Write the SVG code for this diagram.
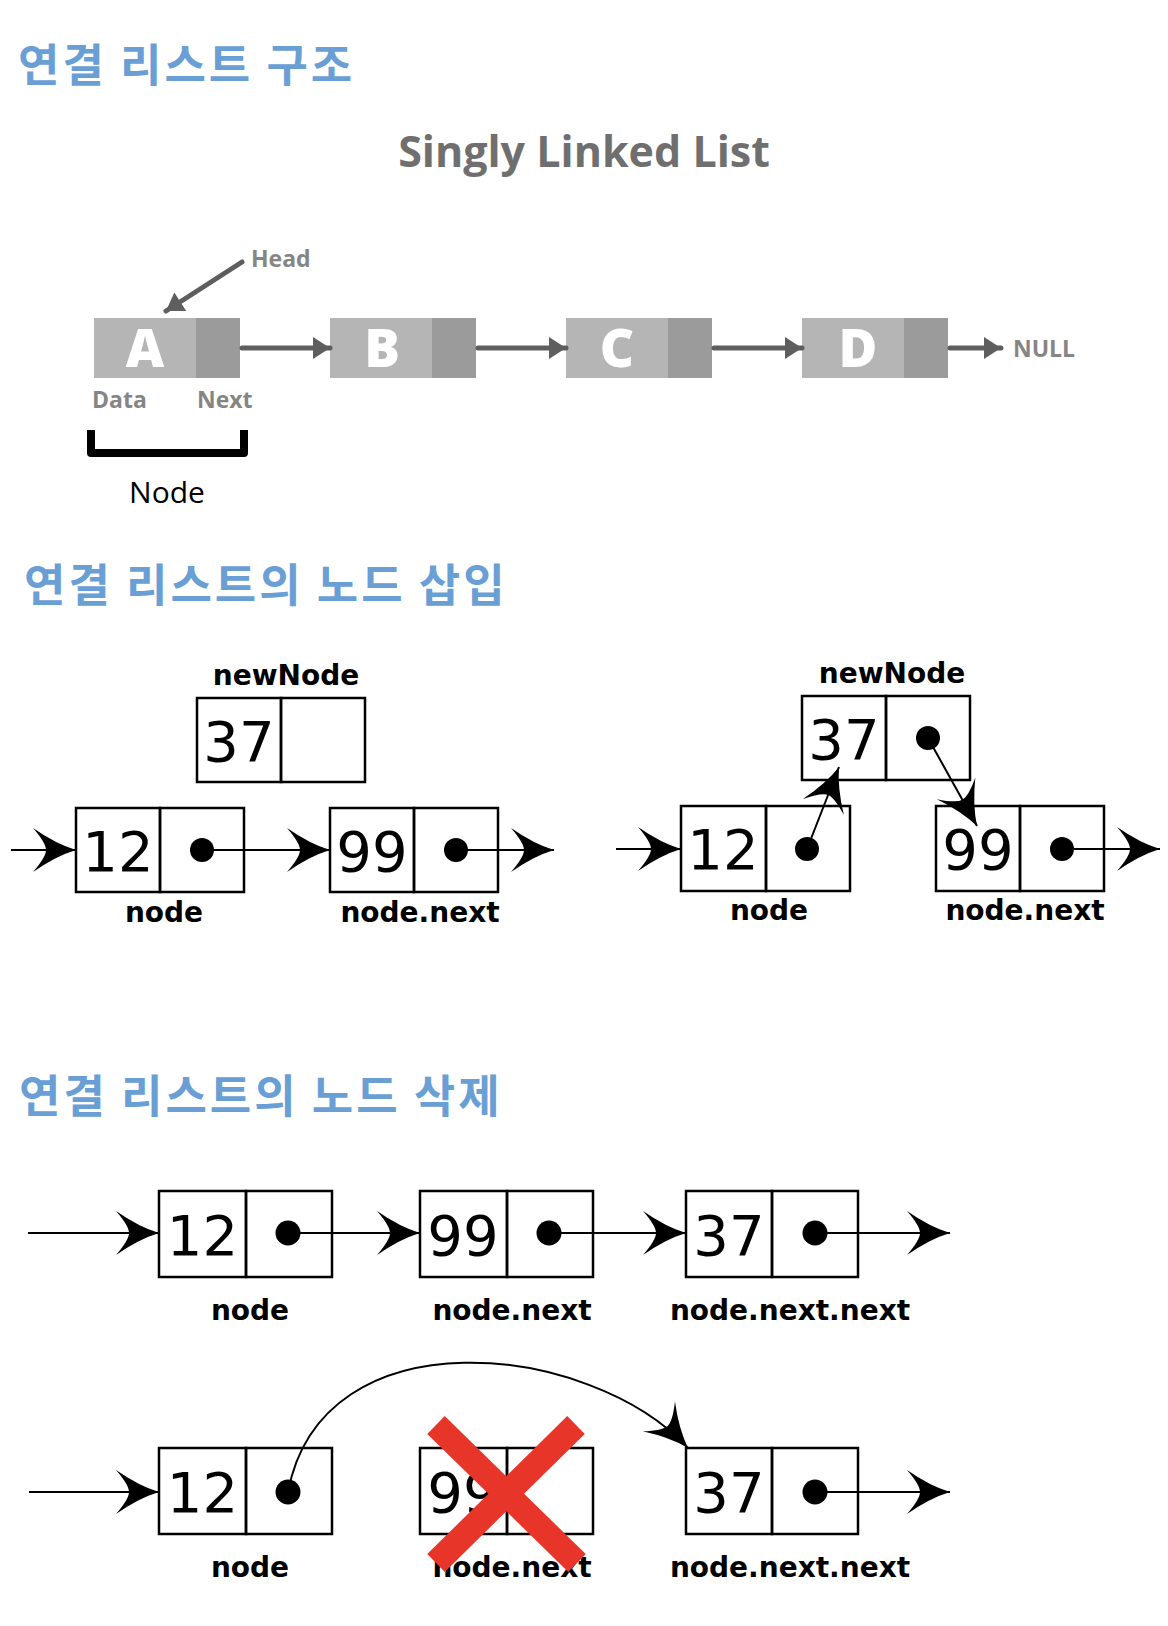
<svg xmlns="http://www.w3.org/2000/svg" width="1168" height="1626" viewBox="0 0 1168 1626">
<style>
.title{font-family:"Noto Sans CJK KR","Noto Sans",sans-serif;font-size:45px;font-weight:bold;letter-spacing:3px;fill:#6a9fd5}
.sub{font-family:"Open Sans","Liberation Sans",sans-serif;font-weight:bold;font-size:43px;fill:#6f6f6f;text-anchor:middle}
.gl{font-family:"Open Sans","Liberation Sans",sans-serif;font-weight:bold;font-size:23px;fill:#858585}
.let{font-family:"Open Sans","Liberation Sans",sans-serif;font-weight:800;font-size:53px;fill:#ffffff;text-anchor:middle}
.data{fill:#b5b5b5}
.next{fill:#9b9b9b}
.garrow{stroke:#5e5e5e;stroke-width:5;stroke-linecap:round;fill:none}
.cell{fill:none;stroke:#000;stroke-width:2.5}
.num{font-family:"DejaVu Sans",sans-serif;font-size:56px;fill:#000;text-anchor:middle}
.lbl{font-family:"DejaVu Sans",sans-serif;font-weight:bold;font-size:28px;fill:#000;text-anchor:middle}
.ptr{fill:none;stroke:#000;stroke-width:2}
</style>
<defs>
<marker id="gtri" viewBox="-20 -12 21 24" refX="0" refY="0" markerWidth="21" markerHeight="24" markerUnits="userSpaceOnUse" orient="auto">
<path d="M0,0 L-17,-11 L-17,11 Z" fill="#5e5e5e"/>
</marker>
<marker id="barb" viewBox="-46 -24 48 48" refX="0" refY="0" markerWidth="48" markerHeight="48" markerUnits="userSpaceOnUse" orient="auto">
<path d="M0,0 Q-20,-6 -43,-22 Q-30,-7 -30,0 Q-30,7 -43,22 Q-20,6 0,0 Z" fill="#000"/>
</marker>
</defs>
<rect x="0" y="0" width="1168" height="1626" fill="#ffffff"/>

<!-- Titles -->
<text class="title" x="18" y="82">연결 리스트 구조</text>
<text class="sub" x="584" y="167">Singly Linked List</text>
<text class="title" x="24" y="602">연결 리스트의 노드 삽입</text>
<text class="title" x="19" y="1113">연결 리스트의 노드 삭제</text>

<!-- Section 1: singly linked list -->
<g id="nodeA">
<rect class="data" x="94" y="318" width="102" height="60"/>
<rect class="next" x="196" y="318" width="44" height="60"/>
<text class="let" x="145" y="367">A</text>
</g>
<g id="nodeB">
<rect class="data" x="330" y="318" width="102" height="60"/>
<rect class="next" x="432" y="318" width="44" height="60"/>
<text class="let" x="382" y="367">B</text>
</g>
<g id="nodeC">
<rect class="data" x="566" y="318" width="102" height="60"/>
<rect class="next" x="668" y="318" width="44" height="60"/>
<text class="let" x="617" y="367">C</text>
</g>
<g id="nodeD">
<rect class="data" x="802" y="318" width="102" height="60"/>
<rect class="next" x="904" y="318" width="44" height="60"/>
<text class="let" x="858" y="367">D</text>
</g>
<g id="labels-top">
<text class="gl" x="251" y="267">Head</text>
<text class="gl" x="1013" y="357">NULL</text>
<text class="gl" x="92" y="408">Data</text>
<text class="gl" x="197" y="408">Next</text>
<path d="M91,430 V453 H244 V430" fill="none" stroke="#000" stroke-width="8" stroke-linejoin="round"/>
<text x="167" y="503" font-family="'Open Sans','Liberation Sans',sans-serif" font-size="30" fill="#000" text-anchor="middle">Node</text>
</g>
<g id="connectors-top">
<line class="garrow" x1="242" y1="262" x2="166" y2="311" marker-end="url(#gtri)"/>
<line class="garrow" x1="242" y1="348" x2="330" y2="348" marker-end="url(#gtri)"/>
<line class="garrow" x1="478" y1="348" x2="566" y2="348" marker-end="url(#gtri)"/>
<line class="garrow" x1="714" y1="348" x2="802" y2="348" marker-end="url(#gtri)"/>
<line class="garrow" x1="950" y1="348" x2="1001" y2="348" marker-end="url(#gtri)"/>
</g>

<!-- Section 2 left: before insertion -->
<g id="ins-left-newNode">
<text class="lbl" x="286" y="685">newNode</text>
<rect class="cell" x="197" y="698" width="84" height="84"/>
<rect class="cell" x="281" y="698" width="84" height="84"/>
<text class="num" x="239" y="761">37</text>
</g>
<g id="ins-left-node">
<rect class="cell" x="76" y="808" width="84" height="84"/>
<rect class="cell" x="160" y="808" width="84" height="84"/>
<text class="num" x="118" y="871">12</text>
<circle cx="202" cy="850" r="12"/>
<text class="lbl" x="164" y="922">node</text>
</g>
<g id="ins-left-next">
<rect class="cell" x="330" y="808" width="84" height="84"/>
<rect class="cell" x="414" y="808" width="84" height="84"/>
<text class="num" x="372" y="871">99</text>
<circle cx="456" cy="850" r="12"/>
<text class="lbl" x="420" y="922">node.next</text>
</g>

<!-- Section 2 right: after insertion -->
<g id="ins-right-newNode">
<text class="lbl" x="892" y="683">newNode</text>
<rect class="cell" x="802" y="696" width="84" height="84"/>
<rect class="cell" x="886" y="696" width="84" height="84"/>
<text class="num" x="844" y="759">37</text>
<circle cx="928" cy="738" r="12"/>
</g>
<g id="ins-right-node">
<rect class="cell" x="681" y="806" width="85" height="85"/>
<rect class="cell" x="766" y="806" width="84" height="85"/>
<text class="num" x="723" y="869">12</text>
<circle cx="807" cy="849" r="12"/>
<text class="lbl" x="769" y="920">node</text>
</g>
<g id="ins-right-next">
<rect class="cell" x="936" y="806" width="84" height="85"/>
<rect class="cell" x="1020" y="806" width="84" height="85"/>
<text class="num" x="978" y="869">99</text>
<circle cx="1062" cy="849" r="12"/>
<text class="lbl" x="1025" y="920">node.next</text>
</g>

<!-- Section 3 row 1 -->
<g id="del1-node">
<rect class="cell" x="159" y="1191" width="87" height="86"/>
<rect class="cell" x="246" y="1191" width="86" height="86"/>
<text class="num" x="202.5" y="1255">12</text>
<circle cx="288" cy="1233" r="12.5"/>
<text class="lbl" x="250" y="1320">node</text>
</g>
<g id="del1-next">
<rect class="cell" x="420" y="1191" width="87" height="86"/>
<rect class="cell" x="507" y="1191" width="86" height="86"/>
<text class="num" x="463" y="1255">99</text>
<circle cx="549" cy="1233" r="12.5"/>
<text class="lbl" x="512" y="1320">node.next</text>
</g>
<g id="del1-nextnext">
<rect class="cell" x="686" y="1191" width="86" height="86"/>
<rect class="cell" x="772" y="1191" width="86" height="86"/>
<text class="num" x="729" y="1255">37</text>
<circle cx="815" cy="1233" r="12.5"/>
<text class="lbl" x="790" y="1320">node.next.next</text>
</g>

<!-- Section 3 row 2 -->
<g id="del2-node">
<rect class="cell" x="159" y="1448" width="87" height="86"/>
<rect class="cell" x="246" y="1448" width="86" height="86"/>
<text class="num" x="202.5" y="1512">12</text>
<circle cx="288" cy="1492" r="12.5"/>
<text class="lbl" x="250" y="1577">node</text>
</g>
<g id="del2-next">
<rect class="cell" x="420" y="1448" width="87" height="86"/>
<rect class="cell" x="507" y="1448" width="86" height="86"/>
<text class="num" x="463" y="1512">99</text>
<text class="lbl" x="512" y="1577">node.next</text>
</g>
<g id="del2-nextnext">
<rect class="cell" x="686" y="1448" width="86" height="86"/>
<rect class="cell" x="772" y="1448" width="86" height="86"/>
<text class="num" x="729" y="1512">37</text>
<circle cx="815" cy="1492" r="12.5"/>
<text class="lbl" x="790" y="1577">node.next.next</text>
</g>

<g id="connectors">
<line class="ptr" x1="11" y1="850" x2="76" y2="850" marker-end="url(#barb)"/>
<line class="ptr" x1="202" y1="850" x2="330" y2="850" marker-end="url(#barb)"/>
<line class="ptr" x1="456" y1="850" x2="554" y2="850" marker-end="url(#barb)"/>

<line class="ptr" x1="616" y1="849" x2="681" y2="849" marker-end="url(#barb)"/>
<line class="ptr" x1="807" y1="849" x2="839" y2="767" marker-end="url(#barb)"/>
<line class="ptr" x1="928" y1="738" x2="977" y2="826" marker-end="url(#barb)"/>
<line class="ptr" x1="1062" y1="849" x2="1160" y2="849" marker-end="url(#barb)"/>

<line class="ptr" x1="28" y1="1233" x2="159" y2="1233" marker-end="url(#barb)"/>
<line class="ptr" x1="288" y1="1233" x2="420" y2="1233" marker-end="url(#barb)"/>
<line class="ptr" x1="549" y1="1233" x2="686" y2="1233" marker-end="url(#barb)"/>
<line class="ptr" x1="815" y1="1233" x2="950" y2="1233" marker-end="url(#barb)"/>

<line class="ptr" x1="29" y1="1492" x2="159" y2="1492" marker-end="url(#barb)"/>
<path class="ptr" d="M288,1492 C322,1312 590,1342 688,1448" marker-end="url(#barb)"/>
<line class="ptr" x1="815" y1="1492" x2="950" y2="1492" marker-end="url(#barb)"/>
</g>

<g id="deleted-mark">
<line x1="436" y1="1425" x2="577" y2="1563" stroke="#e8352a" stroke-width="25"/>
<line x1="576" y1="1425" x2="436" y2="1563" stroke="#e8352a" stroke-width="25"/>
</g>
</svg>
